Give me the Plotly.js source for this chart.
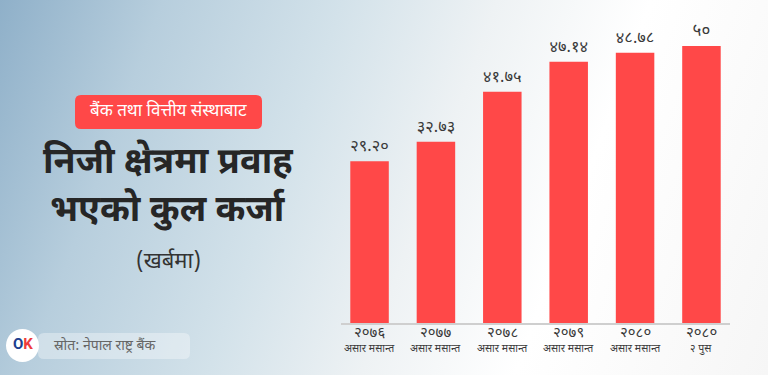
<!DOCTYPE html>
<html>
<head>
<meta charset="utf-8">
<script src="https://cdn.plot.ly/plotly-3.0.1.min.js"></script>
<style>
  html, body { margin:0; padding:0; }
  #chart {
    width:768px; height:375px;
    background: linear-gradient(110deg, #8fb0c9 0%, #b7cedd 18%, #d3e2ea 38%, #eef2f4 55%, #ffffff 72%, #f6f6f6 100%);
  }
</style>
</head>
<body>
<div id="chart"></div>
<script>
// Data
const years = ["२०७६", "२०७७", "२०७८", "२०७९", "२०८०", "२०८०"];
const periods = ["असार मसान्त", "असार मसान्त", "असार मसान्त", "असार मसान्त", "असार मसान्त", "२ पुस"];
const values = [29.20, 32.73, 41.75, 47.14, 48.78, 50];
const valueLabels = ["२९.२०", "३२.७३", "४१.७५", "४७.१४", "४८.७८", "५०"];

const FONT = "'Noto Sans Devanagari', 'Noto Sans', 'DejaVu Sans', sans-serif";
const W = 768, H = 375;
const px = x => x / W;
const py = y => 1 - y / H;

const idx = years.map((_, i) => i);

const trace = {
  type: 'bar',
  x: idx,
  y: values,
  text: valueLabels,
  textposition: 'outside',
  cliponaxis: false,
  textfont: { family: FONT, size: 17, color: '#3a3a3a' },
  marker: { color: '#ff4848' },
  hoverinfo: 'skip'
};

function roundRect(x0, y0, x1, y1, r) {
  const rx = r / W, ry = r / H;
  const X0 = px(x0), X1 = px(x1), Y0 = py(y0), Y1 = py(y1);
  return `M ${X0 + rx},${Y0} L ${X1 - rx},${Y0} Q ${X1},${Y0} ${X1},${Y0 - ry} ` +
         `L ${X1},${Y1 + ry} Q ${X1},${Y1} ${X1 - rx},${Y1} L ${X0 + rx},${Y1} ` +
         `Q ${X0},${Y1} ${X0},${Y1 + ry} L ${X0},${Y0 - ry} Q ${X0},${Y0} ${X0 + rx},${Y0} Z`;
}

function note(x, y, text, font, xanchor) {
  return { xref: 'paper', yref: 'paper', x: px(x), y: py(y), showarrow: false,
           xanchor: xanchor || 'center', yanchor: 'middle', text: text, font: font };
}

// category labels (two lines) under the axis, positioned on the x scale
const catNotes = [];
years.forEach((y, i) => {
  catNotes.push({ xref: 'x', yref: 'paper', x: idx[i], y: py(333), showarrow: false,
    xanchor: 'center', yanchor: 'middle', text: y,
    font: { family: FONT, size: 15, color: '#3a3a3a' } });
  catNotes.push({ xref: 'x', yref: 'paper', x: idx[i], y: py(349), showarrow: false,
    xanchor: 'center', yanchor: 'middle', text: periods[i],
    font: { family: FONT, size: 10.5, color: '#3a3a3a' } });
});

const layout = {
  width: W, height: H,
  margin: { l: 0, r: 0, t: 0, b: 0 },
  paper_bgcolor: 'rgba(0,0,0,0)',
  plot_bgcolor: 'rgba(0,0,0,0)',
  showlegend: false,
  bargap: 0.42,
  xaxis: {
    domain: [341 / W, 730 / W],
    range: [-0.43, 5.43],
    tickmode: 'array',
    tickvals: idx,
    showticklabels: false,
    showgrid: false,
    zeroline: false,
    showline: true,
    linecolor: '#cfcfcf',
    linewidth: 1.5,
    ticks: '',
    fixedrange: true
  },
  yaxis: {
    domain: [52 / H, 1 - 18.3 / H],
    range: [0, 55],
    visible: false,
    fixedrange: true
  },
  shapes: [
    { type: 'path', xref: 'paper', yref: 'paper', path: roundRect(75, 95, 262, 129, 6),
      fillcolor: '#ff4848', line: { width: 0 } },
    { type: 'path', xref: 'paper', yref: 'paper', path: roundRect(38, 333, 190, 359, 6),
      fillcolor: 'rgba(255,255,255,0.35)', line: { width: 0 } },
    { type: 'circle', xref: 'paper', yref: 'paper',
      x0: px(6), x1: px(39), y0: py(362), y1: py(329),
      fillcolor: '#ffffff', line: { width: 0 } }
  ],
  annotations: [
    note(168.5, 112, 'बैंक तथा वित्तीय संस्थाबाट', { family: FONT, size: 17, color: '#ffffff' }),
    note(168, 163, '<b>निजी क्षेत्रमा प्रवाह</b>', { family: FONT, size: 36, color: '#262626' }),
    note(168, 212, '<b>भएको कुल कर्जा</b>', { family: FONT, size: 36, color: '#262626' }),
    note(168, 262, '(खर्बमा)', { family: FONT, size: 22, color: '#333333' }),
    note(52, 346, 'स्रोत: नेपाल राष्ट्र बैंक', { family: FONT, size: 14, color: '#666666' }, 'left'),
    note(22.5, 344, "<b><span style='color:#1d3f8f'>O</span><span style='color:#ee3b3b'>K</span></b>",
         { family: 'Roboto, sans-serif', size: 15 })
  ].concat(catNotes)
};

Plotly.newPlot('chart', [trace], layout, { displayModeBar: false, staticPlot: true });
</script>
</body>
</html>
